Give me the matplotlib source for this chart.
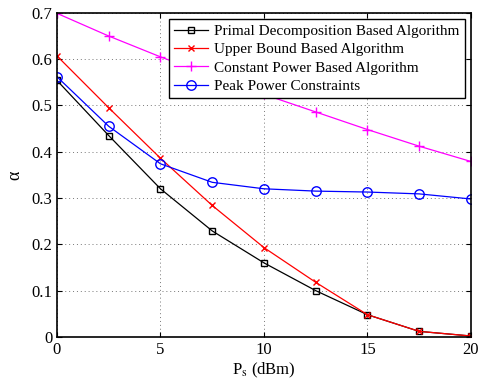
import matplotlib
matplotlib.use('Agg')
import matplotlib.pyplot as plt

# data
ps = [0, 2.5, 5, 7.5, 10, 12.5, 15, 17.5, 20]
primal = [0.554, 0.435, 0.320, 0.229, 0.160, 0.100, 0.048, 0.012, 0.002]
upper = [0.607, 0.495, 0.386, 0.284, 0.193, 0.118, 0.048, 0.012, 0.002]
const_power = [0.699, 0.650, 0.605, 0.563, 0.524, 0.486, 0.448, 0.412, 0.379]
peak = [0.562, 0.455, 0.374, 0.334, 0.320, 0.315, 0.313, 0.309, 0.298]

labels = ['Primal Decomposition Based Algorithm',
          'Upper Bound Based Algorithm',
          'Constant Power Based Algorithm',
          'Peak Power Constraints']

plt.rcParams['font.family'] = ['Liberation Serif', 'DejaVu Serif']
plt.rcParams['mathtext.fontset'] = 'stix'


def main():
    fig = plt.figure(figsize=(4.85, 3.79), dpi=100)
    ax = fig.add_axes([0.1175, 0.111, 0.8535, 0.855])

    ax.plot(ps, primal, color='black', marker='s', markersize=4.8,
            markerfacecolor='none', linewidth=0.9, label=labels[0])
    ax.plot(ps, upper, color='red', marker='x', markersize=5,
            linewidth=0.9, label=labels[1])
    ax.plot(ps, const_power, color='magenta', marker='+', markersize=7,
            linewidth=0.9, label=labels[2])
    ax.plot(ps, peak, color='blue', marker='o', markersize=6.8,
            markerfacecolor='none', linewidth=0.9, label=labels[3])

    ax.set_xlim(0, 20)
    ax.set_ylim(0, 0.7)
    ax.set_xticks([0, 5, 10, 15, 20])
    ax.set_yticks([0, 0.1, 0.2, 0.3, 0.4, 0.5, 0.6, 0.7])
    ax.set_yticklabels(['0', '0.1', '0.2', '0.3', '0.4', '0.5', '0.6', '0.7'])
    ax.tick_params(direction='in', labelsize=12, top=True, right=True)
    ax.grid(True, linestyle=(0, (1, 3)), color='#777777', linewidth=0.7)
    for s in ax.spines.values():
        s.set_linewidth(1.2)

    ax.set_xlabel(r'P$_{\rm s}$ (dBm)', fontsize=12, labelpad=2)
    ax.set_ylabel('α', fontsize=13, labelpad=6)

    leg = ax.legend(loc='upper right', fontsize=11, fancybox=False,
                    framealpha=1, edgecolor='black', borderaxespad=0.4,
                    handlelength=2.2, handletextpad=0.4, labelspacing=0.3,
                    borderpad=0.35)
    leg.get_frame().set_linewidth(1.0)

    fig.savefig('out.png', dpi=100)


if __name__ == '__main__':
    main()
